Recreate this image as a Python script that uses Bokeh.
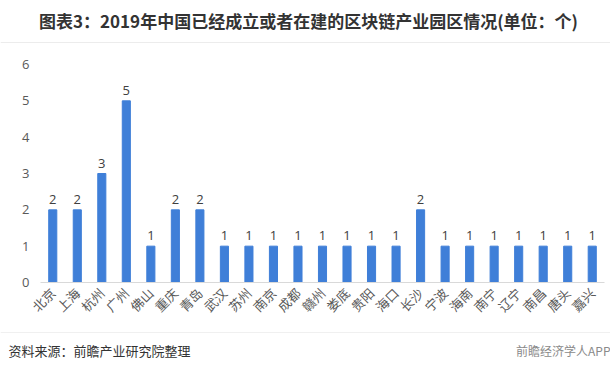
import math
from bokeh.plotting import figure
from bokeh.models import ColumnDataSource, LabelSet, FixedTicker, Range1d
from bokeh.layouts import column
from bokeh.core.properties import value
from bokeh.embed import file_html
from bokeh.resources import INLINE

cities = ["北京", "上海", "杭州", "广州", "佛山", "重庆", "青岛", "武汉", "苏州", "南京",
          "成都", "赣州", "娄底", "贵阳", "海口", "长沙", "宁波", "海南", "南宁", "辽宁",
          "南昌", "唐头", "嘉兴"]
counts = [2, 2, 3, 5, 1, 2, 2, 1, 1, 1, 1, 1, 1, 1, 1, 2, 1, 1, 1, 1, 1, 1, 1]
y_ticks = [0, 1, 2, 3, 4, 5, 6]
title_text = "图表3：2019年中国已经成立或者在建的区块链产业园区情况(单位：个)"
source_text = "资料来源：前瞻产业研究院整理"
brand_text = "前瞻经济学人APP"

FONT = "Noto Sans CJK SC"
NUM_FONT = "Open Sans"
W = 610


def blank(h):
    f = figure(width=W, height=h, x_range=Range1d(0, W), y_range=Range1d(h, 0),
               output_backend="svg", toolbar_location=None,
               x_axis_location=None, y_axis_location=None,
               min_border=0, min_border_left=0, min_border_right=0,
               min_border_top=0, min_border_bottom=0, frame_align=False)
    f.grid.grid_line_color = None
    f.outline_line_color = None
    return f


# header
head = blank(48)
head.text(x=[308], y=[20], text=[title_text], text_align="center", text_baseline="middle",
          text_font=value(FONT), text_font_size="17px", text_font_style="bold",
          text_color="#333333")
head.segment(x0=[0], y0=[42], x1=[W], y1=[42], line_color="#ececec", line_width=1)

# main chart
src = ColumnDataSource(dict(city=cities, n=counts, lbl=[str(v) for v in counts]))
p = figure(x_range=cities, y_range=(0, 6), width=W, height=283,
           output_backend="svg", toolbar_location=None, frame_align=False,
           min_border_left=40, min_border_right=6, min_border_top=16, min_border_bottom=49)
p.outline_line_color = None
p.grid.grid_line_color = None

p.vbar(x="city", top="n", width=0.33, source=src, color="#3f7fd8")

labels = LabelSet(x="city", y="n", text="lbl", source=src, y_offset=6,
                  text_align="center", text_baseline="bottom",
                  text_font=value(NUM_FONT), text_font_size="13px", text_color="#404040")
p.add_layout(labels)

p.yaxis.ticker = FixedTicker(ticks=y_ticks)
p.yaxis.axis_line_color = None
p.yaxis.major_tick_line_color = None
p.yaxis.major_tick_out = 0
p.yaxis.major_tick_in = 0
p.yaxis.minor_tick_line_color = None
p.yaxis.major_label_text_font = NUM_FONT
p.yaxis.major_label_text_font_size = "13px"
p.yaxis.major_label_text_color = "#595959"
p.yaxis.major_label_standoff = 11

p.xaxis.axis_line_color = "#d9d9d9"
p.xaxis.major_tick_line_color = None
p.xaxis.major_tick_out = 0
p.xaxis.major_tick_in = 0
p.xaxis.minor_tick_line_color = None
p.xaxis.major_label_orientation = math.pi / 4
p.xaxis.major_label_text_font = FONT
p.xaxis.major_label_text_font_size = "13px"
p.xaxis.major_label_text_color = "#595959"
p.xaxis.major_label_standoff = 8

# footer
foot = blank(34)
foot.segment(x0=[0], y0=[1], x1=[W], y1=[1], line_color="#f0f0f0", line_width=1)
foot.text(x=[8], y=[19], text=[source_text], text_align="left", text_baseline="middle",
          text_font=value(FONT), text_font_size="13px", text_color="#333333")
foot.text(x=[W], y=[19], text=[brand_text], text_align="right", text_baseline="middle",
          text_font=value(FONT), text_font_size="12px", text_color="#8a8a8a")

layout = column(head, p, foot, spacing=0)
open("out.html", "w").write(file_html(layout, INLINE))
